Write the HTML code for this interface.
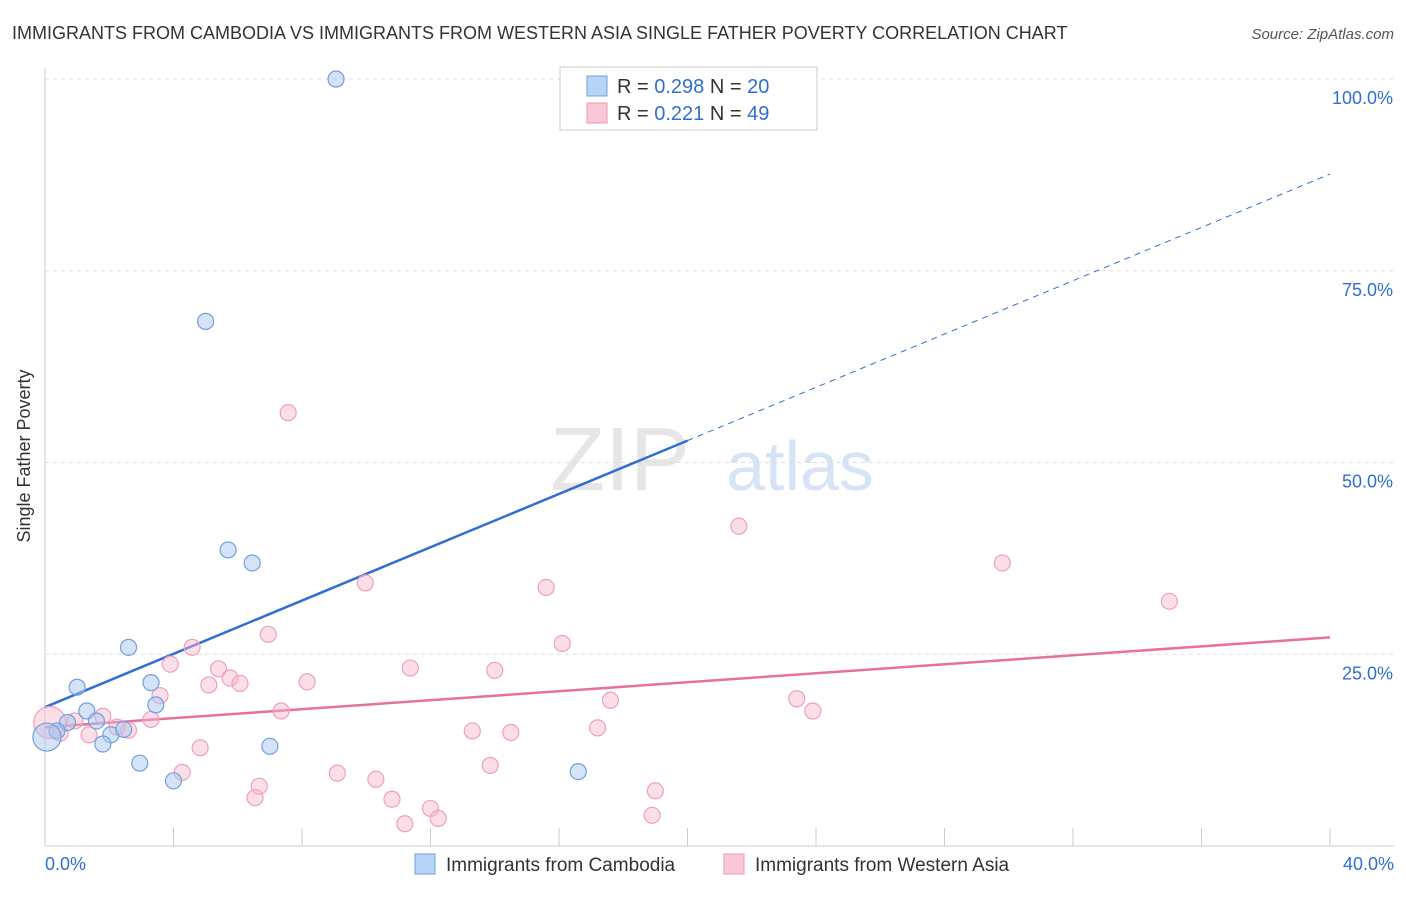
<!DOCTYPE html>
<html><head><meta charset="utf-8"><style>
body{margin:0;background:#fff;font-family:"Liberation Sans",sans-serif}
svg text{font-family:"Liberation Sans",sans-serif}
</style></head><body>
<svg id="chart" width="1406" height="892">
<text x="12" y="39" font-size="18" fill="#333">IMMIGRANTS FROM CAMBODIA VS IMMIGRANTS FROM WESTERN ASIA SINGLE FATHER POVERTY CORRELATION CHART</text>
<text x="1394" y="39" font-size="15" fill="#555" text-anchor="end" font-style="italic">Source: ZipAtlas.com</text>
<text x="30" y="456" font-size="18" fill="#333" text-anchor="middle" transform="rotate(-90 30 456)">Single Father Poverty</text>
<text x="620" y="490" font-size="90" fill="#e6e6e6" text-anchor="middle" font-family="Liberation Serif">ZIP</text>
<text x="800" y="490" font-size="70" fill="#d6e4f5" text-anchor="middle">atlas</text>
<g id="grid"></g><g id="axes"></g><g id="lines"></g><g id="points"></g>
<g>
<rect x="560" y="67" width="257" height="63" fill="#fff" stroke="#ccc"/>
<rect x="587" y="76" width="20" height="20" fill="#b7d3f5" stroke="#6fa0dd"/>
<rect x="587" y="103" width="20" height="20" fill="#fbc8d7" stroke="#ee9ab5"/>
<text x="617" y="93" font-size="20" fill="#333">R = <tspan fill="#2f6fd3">0.298</tspan>   N = <tspan fill="#2f6fd3">20</tspan></text>
<text x="617" y="120" font-size="20" fill="#333">R =  <tspan fill="#2f6fd3">0.221</tspan>   N = <tspan fill="#2f6fd3">49</tspan></text>
</g>
<g>
<rect x="415" y="854" width="20" height="20" fill="#b7d3f5" stroke="#6fa0dd"/>
<text x="446" y="871" font-size="19" fill="#333">Immigrants from Cambodia</text>
<rect x="724" y="854" width="20" height="20" fill="#fbc8d7" stroke="#ee9ab5"/>
<text x="755" y="871" font-size="19" fill="#333">Immigrants from Western Asia</text>
</g>
</svg>
<script>
const yTicks=[25,50,75,100];
const xTickLabels=["0.0%","40.0%"];
const cambX=[9.06,5.0,5.7,6.45,2.6,1.0,3.3,3.45,1.3,1.6,0.7,0.37,2.05,2.45,1.8,7.0,2.95,4.0,16.6,0.06];
const cambY=[100,68.4,38.6,36.9,25.9,20.7,21.3,18.4,17.6,16.3,16.1,15.0,14.5,15.2,13.3,13.0,10.8,8.5,9.7,14.2];
const waX=[7.57,21.6,29.8,35.0,9.97,15.6,16.1,6.95,4.58,3.9,5.4,5.76,6.07,5.1,8.16,11.37,14.0,3.58,7.35,17.6,23.4,23.9,3.3,1.8,0.93,2.6,2.24,1.37,13.3,14.5,17.2,4.83,4.27,6.67,6.54,9.1,10.3,13.86,10.8,12.0,12.24,11.2,19.0,18.9,0.15,0.47];
const waY=[56.5,41.7,36.9,31.9,34.3,33.7,26.4,27.6,25.9,23.7,23.1,21.9,21.2,21.0,21.4,23.2,22.9,19.6,17.6,19.0,19.2,17.6,16.5,16.9,16.3,15.1,15.5,14.5,15.0,14.8,15.4,12.8,9.6,7.8,6.3,9.5,8.7,10.5,6.1,4.9,3.6,2.9,7.2,4.0,16.1,14.7];
const cambFit=[18.1,87.6]; // y at x=0, y at x=40
const waFit=[15.5,27.2];
const ns="http://www.w3.org/2000/svg";
const X=v=>45+v*(1285/40), Y=v=>846-v*(767/100);
function mk(t,a,p){const e=document.createElementNS(ns,t);for(const k in a)e.setAttribute(k,a[k]);document.getElementById(p).appendChild(e);return e;}
yTicks.forEach(t=>{
 const l=mk('line',{x1:45,x2:1394,y1:Y(t),y2:Y(t),stroke:'#ddd','stroke-dasharray':'4,4'},'grid');
 
 
 const tx=mk('text',{x:1393,y:Y(t)+25,'font-size':18,fill:'#2f6fd3','text-anchor':'end'},'grid');
 tx.textContent=t.toFixed(1)+'%';
 
 
});
mk('line',{x1:45,x2:45,y1:68,y2:846,stroke:'#ccc'},'axes');
mk('line',{x1:45,x2:1394,y1:846,y2:846,stroke:'#ccc'},'axes');
for(let i=0;i<=10;i++){const t=mk('line',{x1:X(i*4),x2:X(i*4),y1:828,y2:846,stroke:'#ccc'},'axes');
 
 }
[[0,'start',45],[40,'end',1394]].forEach((d,i)=>{const t=mk('text',{x:d[2],y:870,'font-size':18,fill:'#2f6fd3','text-anchor':d[1]},'axes');t.textContent=xTickLabels[i];
 
 });
const fy=(f,x)=>f[0]+(f[1]-f[0])*x/40;
let l=mk('line',{x1:X(0),y1:Y(fy(cambFit,0)),x2:X(20),y2:Y(fy(cambFit,20)),stroke:'#2f6fd3','stroke-width':2.5},'lines');


l=mk('line',{x1:X(20),y1:Y(fy(cambFit,20)),x2:X(40),y2:Y(fy(cambFit,40)),stroke:'#2f6fd3','stroke-width':1,'stroke-dasharray':'6,5'},'lines');


l=mk('line',{x1:X(0),y1:Y(fy(waFit,0)),x2:X(40),y2:Y(fy(waFit,40)),stroke:'#e8709a','stroke-width':2.5},'lines');


waX.forEach((x,i)=>{const c=mk('circle',{cx:X(x),cy:Y(waY[i]),r:i>=44&&i==44?16:8,fill:'rgba(248,182,203,0.45)',stroke:'#eea0b9','stroke-width':1.2},'points');
 
 });
cambX.forEach((x,i)=>{const c=mk('circle',{cx:X(x),cy:Y(cambY[i]),r:i==19?14:8,fill:'rgba(170,200,240,0.5)',stroke:'#6fa0dd','stroke-width':1.2},'points');
 
 });
</script>
</body></html>
